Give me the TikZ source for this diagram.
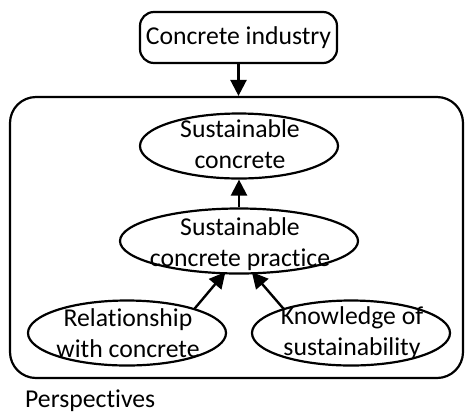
\documentclass[tikz,border=0pt]{standalone}
\usepackage{fontspec}
\setmainfont{Carlito}[Ligatures=NoCommon]
\usetikzlibrary{shapes.geometric,arrows.meta}

\tikzset{
  oval/.style={draw, ellipse, line width=2.2pt, minimum width=198pt, minimum height=65pt, inner sep=0pt},
  txt/.style={align=center, font=\fontsize{25.7}{31.5}\selectfont, inner sep=0pt},
  arr/.style={-{Triangle[width=16pt,length=16pt]}, line width=2.4pt}
}

\begin{document}
\begin{tikzpicture}[x=1pt, y=-1pt]
 \useasboundingbox (0,0) rectangle (465,416);

 \node [draw, line width=2.2pt, rounded corners=14pt, minimum width=197pt, minimum height=51pt] (ind) at (238.5,37.5) {};
 \node [txt] (ind-t) at (ind) {Concrete industry};

 \node [draw, line width=2.2pt, rounded corners=26pt, minimum width=453pt, minimum height=281pt] (persp) at (236.5,237.5) {};
 \node [txt, anchor=west] (persp-t) at (25,401) {Perspectives};

 \node [oval] (sc) at (239,146) {};
 \node [txt] (sc-t) at (240,144) {Sustainable\\concrete};

 \node [oval, minimum width=238pt] (scp) at (239,241) {};
 \node [txt] (scp-t) at (240,244) {Sustainable\\concrete practice};

 \node [oval] (rel) at (127,333) {};
 \node [txt] (rel-t) at (128,333) {Relationship\\with concrete};

 \node [oval] (know) at (351,333) {};
 \node [txt] (know-t) at (352,333) {Knowledge of\\sustainability};

 \draw [arr] (ind.south) -- (ind.south |- persp.north);
 \draw [arr] (scp.north) -- (sc.south);
 \draw [arr, shorten >=-3pt] (rel.20) -- (scp.245);
 \draw [arr, shorten >=-3pt] (know.160) -- (scp.294);
\end{tikzpicture}
\end{document}
